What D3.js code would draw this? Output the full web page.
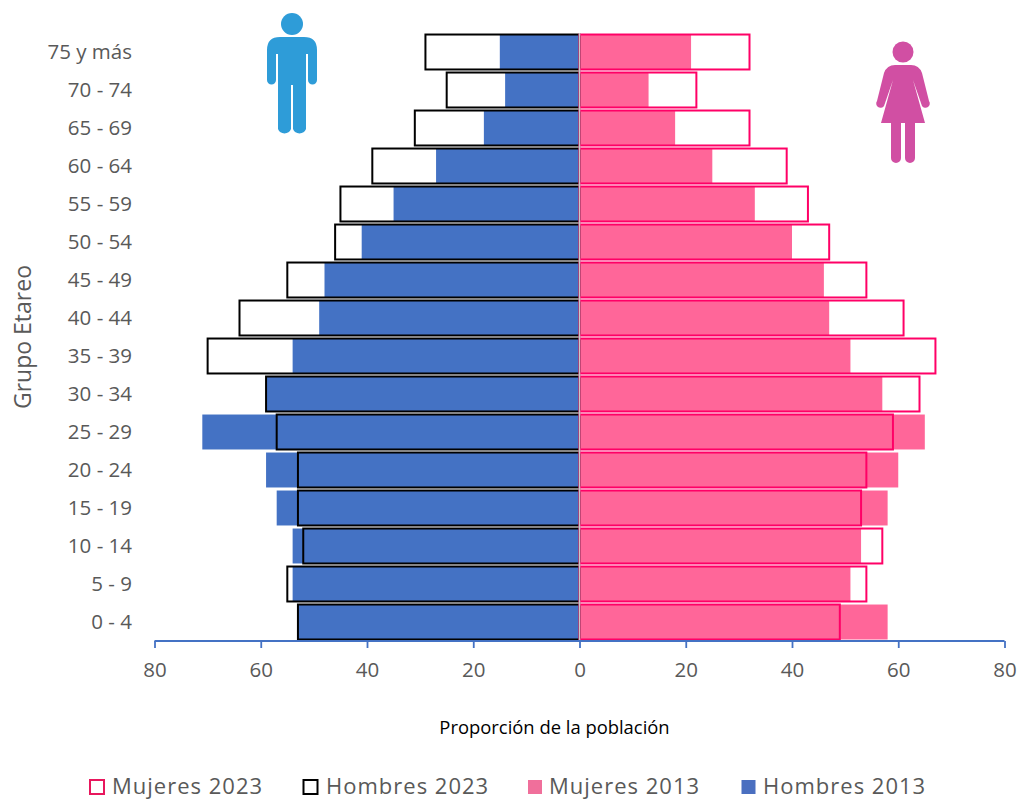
<!DOCTYPE html>
<html><head><meta charset="utf-8">
<script src="https://cdn.jsdelivr.net/npm/d3@7/dist/d3.min.js"></script>
<style>
html,body{margin:0;padding:0;background:#fff;}
svg{display:block;}
text{font-family:"Open Sans","Noto Sans",sans-serif;}
</style></head><body>
<svg id="c" width="1018" height="799"></svg>
<script>
const categories=["75 y más","70 - 74","65 - 69","60 - 64","55 - 59","50 - 54","45 - 49","40 - 44","35 - 39","30 - 34","25 - 29","20 - 24","15 - 19","10 - 14","5 - 9","0 - 4"];
const hombres2013=[15,14,18,27,35,41,48,49,54,59,71,59,57,54,54,53];
const mujeres2013=[21,13,18,25,33,40,46,47,51,57,65,60,58,53,51,58];
const hombres2023=[29,25,31,39,45,46,55,64,70,59,57,53,53,52,55,53];
const mujeres2023=[32,22,32,39,43,47,54,61,67,64,59,54,53,57,54,49];
const xTicks=[-80,-60,-40,-20,0,20,40,60,80];
const legendItems=[
 {label:"Mujeres 2023",fill:"#fff",stroke:"#e8175d"},
 {label:"Hombres 2023",fill:"#fff",stroke:"#000"},
 {label:"Mujeres 2013",fill:"#f06f9b",stroke:"none"},
 {label:"Hombres 2013",fill:"#4a6fc0",stroke:"none"}];

const svg=d3.select("#c");
const x=d3.scaleLinear().domain([-80,80]).range([154.5,1004.5]);
const y=d3.scaleBand().domain(categories).range([33,641]).paddingInner(0.08).paddingOuter(0.04);

function bars(vals,side,cls,fill,stroke,sw){
  svg.append("g").attr("class",cls).selectAll("rect").data(vals).join("rect")
    .attr("x",d=>side<0?x(-d):x(0))
    .attr("width",d=>Math.abs(x(d)-x(0)))
    .attr("y",(d,i)=>y(categories[i]))
    .attr("height",y.bandwidth())
    .attr("fill",fill).attr("stroke",stroke).attr("stroke-width",sw);
}
bars(hombres2013,-1,"h13","#4472c4","none",0);
bars(mujeres2013,1,"m13","#ff6699","none",0);
bars(hombres2023,-1,"h23","none","#000",2);
bars(mujeres2023,1,"m23","none","#ff0066",2);

// centre line
svg.append("line").attr("x1",x(0)).attr("x2",x(0)).attr("y1",33).attr("y2",641).attr("stroke","#c8c8c8").attr("stroke-width",1.5);

// x axis
const ax=svg.append("g").attr("transform","translate(0,641)")
  .call(d3.axisBottom(x).tickValues(xTicks).tickSize(7).tickPadding(14).tickFormat(d=>Math.abs(d)));
ax.selectAll("path,line").attr("stroke","#4472c4").attr("stroke-width",1.8);
ax.select("path").attr("d",`M${x(-80)},0H${x(80)}`);
ax.selectAll("text").attr("font-size",20.5).attr("fill","#595959").attr("font-family",'"Open Sans",sans-serif');

// y labels
svg.append("g").selectAll("text").data(categories).join("text")
  .attr("x",132).attr("y",d=>y(d)+y.bandwidth()/2).attr("dy","0.35em")
  .attr("text-anchor","end").attr("font-size",20.5).attr("fill","#595959").text(d=>d);

// axis titles
svg.append("text").attr("transform","translate(31,337) rotate(-90)").attr("text-anchor","middle")
  .attr("font-size",23).attr("fill","#595959").text("Grupo Etareo");
svg.append("text").attr("x",554.5).attr("y",734).attr("text-anchor","middle")
  .attr("font-size",18.4).attr("fill","#000").text("Proporción de la población");

// legend
const legendX=[90,303.5,528,741.5], legendText=[112,326,549,763];
const lg=svg.append("g").selectAll("g").data(legendItems).join("g");
lg.append("rect").attr("x",(d,i)=>legendX[i]).attr("y",780).attr("width",14).attr("height",14)
  .attr("fill",d=>d.fill).attr("stroke",d=>d.stroke).attr("stroke-width",2);
lg.append("text").attr("x",(d,i)=>legendText[i]).attr("y",794).attr("font-size",22)
  .attr("letter-spacing",1).attr("fill","#595959").text(d=>d.label);

// icons
const man=svg.append("g").attr("fill","#2e9cd8");
man.append("circle").attr("cx",292).attr("cy",24).attr("r",11);
man.append("path").attr("d","M280 37H304Q317 37 317 50V80A4.5 4.5 0 0 1 308 80V54H306V129A7 7 0 0 1 293 129V85H291V129A7 7 0 0 1 278 129V54H276V80A4.5 4.5 0 0 1 267 80V50Q267 37 280 37Z");
const woman=svg.append("g").attr("fill","#d14fa3");
woman.append("circle").attr("cx",903).attr("cy",52).attr("r",10.5);
woman.append("path").attr("d","M895 65H911Q919 65 922 73L929 101A4 4 0 0 1 922 106L913 80L925 123H915V158A5 5 0 0 1 905 158V123H901V158A5 5 0 0 1 891 158V123H881L893 80L884 106A4 4 0 0 1 877 101L884 73Q887 65 895 65Z");
</script>
</body></html>
